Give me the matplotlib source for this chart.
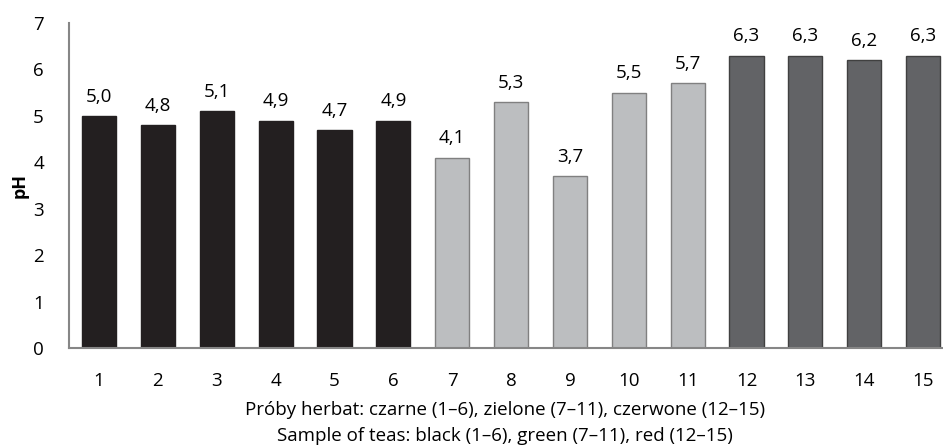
import matplotlib.pyplot as plt
import numpy as np

samples = [str(i) for i in range(1, 16)]
ph = [5.0, 4.8, 5.1, 4.9, 4.7, 4.9, 4.1, 5.3, 3.7, 5.5, 5.7, 6.3, 6.3, 6.2, 6.3]
groups = ["black"] * 6 + ["green"] * 5 + ["red"] * 4

fill = {"black": "#231f20", "green": "#bcbec0", "red": "#626366"}
edge = {"black": "#231f20", "green": "#808080", "red": "#404040"}

plt.rcParams["font.family"] = ["Open Sans", "DejaVu Sans"]

fig = plt.figure(figsize=(9.43, 4.47), dpi=100)
ax = fig.add_axes([69 / 943, 1 - 348 / 447, 883 / 943, 325 / 447])

x = np.arange(1, len(ph) + 1)
bars = ax.bar(x, ph, width=0.58,
              color=[fill[g] for g in groups],
              edgecolor=[edge[g] for g in groups], linewidth=1)

for xi, v in zip(x, ph):
    ax.text(xi, v + 0.22, f"{v:.1f}".replace(".", ","), ha="center", va="bottom",
            fontsize=13.5)

ax.set_xlim(0.49, 15.49)
ax.set_ylim(0, 7)
ax.set_xticks(x)
ax.set_xticklabels(samples)
ax.set_yticks(range(0, 8))
ax.tick_params(axis="both", length=0, labelsize=13.5)
ax.tick_params(axis="x", pad=17)
ax.tick_params(axis="y", pad=18)

for s in ["top", "right"]:
    ax.spines[s].set_visible(False)
for s in ["left", "bottom"]:
    ax.spines[s].set_color("#868686")
    ax.spines[s].set_linewidth(1.5)

fig.text(20 / 943, 1 - 185 / 447, "pH", rotation=90, ha="center", va="center",
         fontsize=13, fontweight="bold")
fig.text(505 / 943, 1 - 410 / 447,
         "Próby herbat: czarne (1–6), zielone (7–11), czerwone (12–15)",
         ha="center", va="center", fontsize=13.5)
fig.text(505 / 943, 1 - 436 / 447,
         "Sample of teas: black (1–6), green (7–11), red (12–15)",
         ha="center", va="center", fontsize=13.5)

fig.savefig("out.png", dpi=100)
